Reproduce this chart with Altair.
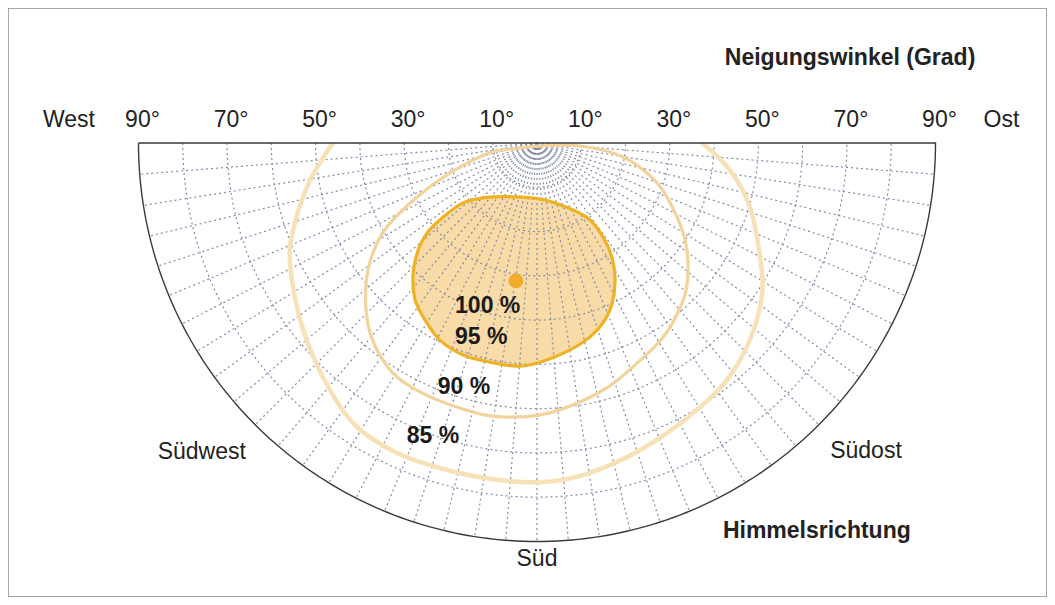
import math
import altair as alt
import pandas as pd

# ---------------- data ----------------
# grid: tilt circles (deg) and radial azimuth step (deg)
grid_tilts = [10, 20, 30, 40, 50, 60, 70, 80]
outer_tilt = 90
radial_step = 4.5

# 95 % contour (azimuth from south, + = east ; tilt in degrees)
c95_az = [-41.0, -17.5, 8.0, 28.3, 34.5, 35.1, 33.3, 30.2, 25.8, 21.0, 15.3, 9.1,
          0.8, -5.1, -12.1, -19.2, -26.2, -32.3, -37.8, -43.2, -48.0, -50.8, -51.6, -51.0]
c95_tilt = [16.2, 12.8, 13.0, 17.2, 21.1, 25.9, 30.8, 35.0, 39.4, 42.8, 45.4, 47.3,
            49.5, 50.6, 50.6, 50.7, 49.6, 47.3, 44.9, 40.9, 36.1, 31.8, 28.0, 21.5]

# 90 % contour
c90_az = [0.0, 86.0, 80.8, 71.6, 62.1, 54.5, 45.4, 37.2, 31.2, 23.2, 15.9, 7.8, 0.6,
          -6.7, -12.5, -22.8, -30.9, -37.7, -43.8, -50.3, -55.8, -60.8, -65.8, -71.0,
          -78.2, -76.5]
c90_tilt = [0.7, 9.7, 19.7, 28.6, 35.8, 41.6, 47.3, 50.8, 52.8, 55.0, 57.5, 59.7, 61.4,
            62.3, 62.5, 62.2, 61.6, 59.1, 55.4, 50.2, 45.0, 38.8, 29.7, 20.8,
            11.1, 5.8]

# 85 % contour (open, from West axis to East axis)
c85_az = [-90.0, -80.7, -71.7, -64.1, -51.4, -40.0, -32.4, -24.3, -15.4, -6.8, 0.5, 7.4,
          16.0, 24.1, 31.7, 38.7, 47.2, 56.0, 62.9, 73.3, 82.0, 90.0]
c85_tilt = [46.1, 51.9, 57.6, 62.0, 67.6, 72.8, 75.9, 76.8, 76.6, 76.6, 76.6, 75.8,
            73.8, 71.8, 70.1, 68.6, 65.5, 61.3, 56.6, 50.2, 44.0, 37.3]

# optimum (100 %)
opt_az = [-8.7]
opt_tilt = [31.5]

# tilt tick labels along the top edge
tick_values = [90, 70, 50, 30, 10, 10, 30, 50, 70, 90]
tick_sides = [-1, -1, -1, -1, -1, 1, 1, 1, 1, 1]

# other text (cartesian positions in tilt-degree units)
side_text = ["West", "Ost"]
side_x = [-105.7, 104.9]
side_y = [5.2, 5.2]

dir_text = ["Südwest", "Süd", "Südost"]
dir_x = [-75.7, 0.0, 74.3]
dir_y = [-69.8, -94.0, -69.6]

title_text = ["Neigungswinkel (Grad)", "Himmelsrichtung"]
title_x = [70.7, 63.2]
title_y = [19.2, -87.6]

pct_text = ["100 %", "95 %", "90 %", "85 %"]
pct_x = [-18.5, -18.5, -22.4, -29.4]
pct_y = [-36.8, -43.9, -55.2, -66.2]

# ---------------- helpers ----------------
def to_xy(az, tilt):
    a = math.radians(az)
    return tilt * math.sin(a), -tilt * math.cos(a)

def contour_df(azs, tilts):
    rows = []
    for i, (a, t) in enumerate(zip(azs, tilts)):
        x, y = to_xy(a, t)
        rows.append({"i": i, "x": x, "y": y})
    return pd.DataFrame(rows)

rows = []
for t in grid_tilts:
    for k, a in enumerate(range(-90, 91, 1)):
        x, y = to_xy(a, t)
        rows.append({"ring": t, "i": k, "x": x, "y": y})
grid_df = pd.DataFrame(rows)

rows = []
for k, a in enumerate(range(-90, 91, 1)):
    x, y = to_xy(a, outer_tilt)
    rows.append({"i": k, "x": x, "y": y})
rows.append({"i": 181, "x": -outer_tilt, "y": 0.0})
outer_df = pd.DataFrame(rows)

rows = []
n = int(round(180 / radial_step))
for j in range(1, n):
    a = -90 + j * radial_step
    x, y = to_xy(a, outer_tilt)
    rows.append({"spoke": j, "i": 0, "x": 0.0, "y": 0.0})
    rows.append({"spoke": j, "i": 1, "x": x, "y": y})
spoke_df = pd.DataFrame(rows)

c95_df = contour_df(c95_az, c95_tilt)
c90_df = contour_df(c90_az, c90_tilt)
c85_df = contour_df(c85_az, c85_tilt)
opt_df = contour_df(opt_az, opt_tilt)

tick_df = pd.DataFrame({
    "x": [s * v for s, v in zip(tick_sides, tick_values)],
    "y": [5.2] * len(tick_values),
    "label": [f"{v}°" for v in tick_values],
})
side_df = pd.DataFrame({"x": side_x, "y": side_y, "label": side_text})
dir_df = pd.DataFrame({"x": dir_x, "y": dir_y, "label": dir_text})
title_df = pd.DataFrame({"x": title_x, "y": title_y, "label": title_text})
pct_df = pd.DataFrame({"x": pct_x, "y": pct_y, "label": pct_text})

# ---------------- chart ----------------
X_DOM = [-119.47, 115.18]
Y_DOM = [-102.53, 30.49]
X = alt.X("x:Q", scale=alt.Scale(domain=X_DOM, nice=False, zero=False), axis=None)
Y = alt.Y("y:Q", scale=alt.Scale(domain=Y_DOM, nice=False, zero=False), axis=None)

GRID = "#858ba8"
FONT = "Liberation Sans"

fill95 = alt.Chart(c95_df).mark_line(
    interpolate="cardinal-closed", fill="#f8d9a2", fillOpacity=0.95,
    stroke="#f8d9a2", strokeWidth=0.1
).encode(x=X, y=Y, order="i:Q")

grid = alt.Chart(grid_df).mark_line(
    color=GRID, strokeWidth=1.2, strokeDash=[2, 3]
).encode(x=X, y=Y, detail="ring:N", order="i:Q")

spokes = alt.Chart(spoke_df).mark_line(
    color=GRID, strokeWidth=1.2, strokeDash=[2, 3]
).encode(x=X, y=Y, detail="spoke:N", order="i:Q")

outer = alt.Chart(outer_df).mark_line(
    color="#3a3a3a", strokeWidth=1.4
).encode(x=X, y=Y, order="i:Q")

line85 = alt.Chart(c85_df).mark_line(
    interpolate="cardinal", color="#f6e2b6", strokeWidth=4.5
).encode(x=X, y=Y, order="i:Q")

line90 = alt.Chart(c90_df).mark_line(
    interpolate="cardinal-closed", color="#f2d39c", strokeWidth=3.2
).encode(x=X, y=Y, order="i:Q")

line95 = alt.Chart(c95_df).mark_line(
    interpolate="cardinal-closed", color="#efb225", strokeWidth=3.2
).encode(x=X, y=Y, order="i:Q")

opt = alt.Chart(opt_df).mark_circle(
    size=220, color="#efad2a", opacity=1
).encode(x=X, y=Y)

ticks = alt.Chart(tick_df).mark_text(
    font=FONT, fontSize=23, color="#222", align="center", baseline="middle", dx=4
).encode(x=X, y=Y, text="label:N")

sides = alt.Chart(side_df).mark_text(
    font=FONT, fontSize=23, color="#222", align="center", baseline="middle"
).encode(x=X, y=Y, text="label:N")

dirs = alt.Chart(dir_df).mark_text(
    font=FONT, fontSize=23, color="#222", align="center", baseline="middle"
).encode(x=X, y=Y, text="label:N")

titles = alt.Chart(title_df).mark_text(
    font=FONT, fontSize=23, fontWeight="bold", color="#222", align="center",
    baseline="middle"
).encode(x=X, y=Y, text="label:N")

pcts = alt.Chart(pct_df).mark_text(
    font=FONT, fontSize=23, fontWeight="bold", color="#1a1a1a", align="left",
    baseline="middle"
).encode(x=X, y=Y, text="label:N")

chart = alt.layer(
    fill95, grid, spokes, line85, line90, line95, outer, opt,
    ticks, sides, dirs, titles, pcts
).properties(
    width=1039, height=589, autosize=alt.AutoSizeParams(type="none"), padding=0,
    background="white"
).configure_view(stroke="#8a8a8a", strokeWidth=1.5)

chart.save("out.html", embed_options={"renderer": "svg", "actions": False})
